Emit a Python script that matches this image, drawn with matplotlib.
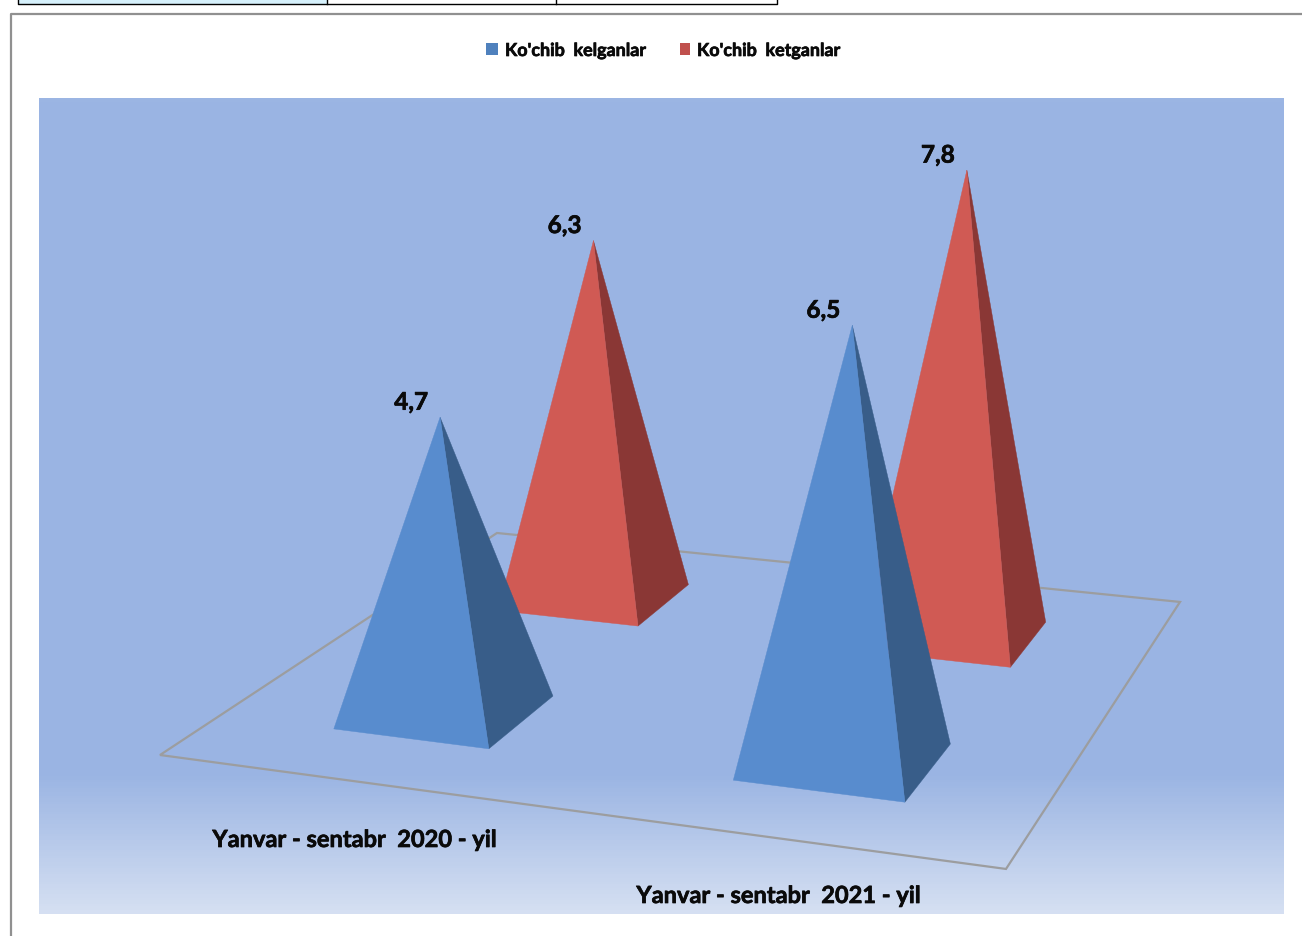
import numpy as np
import matplotlib
matplotlib.use('Agg')
import matplotlib.pyplot as plt
import matplotlib.patheffects as pe
from matplotlib.patches import Polygon, Rectangle
from matplotlib.colors import LinearSegmentedColormap

categories = ['Yanvar - sentabr  2020 - yil', 'Yanvar - sentabr  2021 - yil']
series_names = ["Ko'chib  kelganlar", "Ko'chib  ketganlar"]
arrivals = [4.7, 6.5]
departures = [6.3, 7.8]

FLOOR_A, FLOOR_B, FLOOR_C = 745.1, 468.3, 160.0
FLOOR_D, FLOOR_E, FLOOR_F = 26.8, -81.2, 755.0
FLOOR_G, FLOOR_H = -0.1003, 0.2642
HEIGHT_SCALE = 69.7
HEIGHT_ZERO = 0.294  # value axis does not start quite at the floor
HALF_WIDTH = 0.1
BOLDER = [pe.withStroke(linewidth=0.5, foreground='#0a0a0a')]


def floor(u, v):
    # perspective projection of the floor square to pixels
    w = FLOOR_G * u + FLOOR_H * v + 1
    return (FLOOR_A * u + FLOOR_B * v + FLOOR_C) / w, (FLOOR_D * u + FLOOR_E * v + FLOOR_F) / w, w


def apex(u, v, value):
    x, y, w = floor(u, v)
    h = (value - HEIGHT_ZERO) * HEIGHT_SCALE / w
    return x + (x - 629) * h * 9.25e-5, y - h


def pyramid(ax, u, v, value, front, side):
    top = apex(u, v, value)
    fl = floor(u - HALF_WIDTH, v - HALF_WIDTH)[:2]
    fr = floor(u + HALF_WIDTH, v - HALF_WIDTH)[:2]
    br = floor(u + HALF_WIDTH, v + HALF_WIDTH)[:2]
    ax.add_patch(Polygon([fr, br, top], closed=True, fc=side, ec=side, lw=0.3, zorder=3))
    ax.add_patch(Polygon([fl, fr, top], closed=True, fc=front, ec=front, lw=0.3, zorder=3))
    ax.text(top[0] - 29, top[1] - 15, f'{value:.1f}'.replace('.', ','), ha='center', va='center',
            fontsize=17.5, fontweight='bold', color='#0a0a0a', zorder=5, path_effects=BOLDER)


plt.rcParams['font.family'] = ['Lato', 'DejaVu Sans']
fig = plt.figure(figsize=(13.02, 9.36), dpi=100)
ax = fig.add_axes([0, 0, 1, 1])
ax.set_xlim(0, 1302)
ax.set_ylim(936, 0)
ax.axis('off')

# bit of the table above the chart
ax.add_patch(Rectangle((18, -3), 309, 6.5, fc='#d6f1fc', ec='none', zorder=1))
ax.plot([18, 18, 777, 777], [0, 3.5, 3.5, 0], color='black', lw=1, zorder=2)
ax.plot([327, 327], [0, 3.5], color='black', lw=1, zorder=2)
ax.plot([556, 556], [0, 3.5], color='black', lw=1, zorder=2)

# chart border
ax.plot([10.5, 10.5, 1302], [936, 14, 14], color='#909090', lw=1.6, zorder=2)

# wall with fade at the bottom
cmap = LinearSegmentedColormap.from_list('wall', [(0, '#9bb5e3'), (0.83, '#9ab4e3'), (1, '#d5dff2')])
grad = np.linspace(0, 1, 408)[:, None]
ax.imshow(grad, extent=(39, 1284, 914, 98), cmap=cmap, aspect='auto', zorder=1)
ax.set_xlim(0, 1302)
ax.set_ylim(936, 0)

# floor outline
corners = [floor(0, 0)[:2], floor(1, 0)[:2], floor(1, 1)[:2], floor(0, 1)[:2]]
ax.add_patch(Polygon(corners, closed=True, fc='none', ec='#9c9d9f', lw=1.6, zorder=2))

# back row first
for u, value in zip([0.25, 0.75], departures):
    pyramid(ax, u, 0.75, value, '#d05a54', '#8a3735')
for u, value in zip([0.25, 0.75], arrivals):
    pyramid(ax, u, 0.25, value, '#588cce', '#385d89')

ax.text(355, 839.5, categories[0], ha='center', va='center', fontsize=17, fontweight='bold', color='#0a0a0a',
        zorder=5, path_effects=BOLDER)
ax.text(779, 895.5, categories[1], ha='center', va='center', fontsize=17, fontweight='bold', color='#0a0a0a',
        zorder=5, path_effects=BOLDER)

# legend
ax.add_patch(Rectangle((486, 43), 12, 12, fc='#4f81bd', ec='none', zorder=5))
ax.add_patch(Rectangle((680, 43), 10, 12, fc='#c0504d', ec='none', zorder=5))
ax.text(505, 50.5, series_names[0], ha='left', va='center', fontsize=12.9, fontweight='bold', color='#0a0a0a',
        path_effects=BOLDER)
ax.text(697, 50.5, series_names[1], ha='left', va='center', fontsize=12.9, fontweight='bold', color='#0a0a0a',
        path_effects=BOLDER)

fig.savefig('out.png', dpi=100)
